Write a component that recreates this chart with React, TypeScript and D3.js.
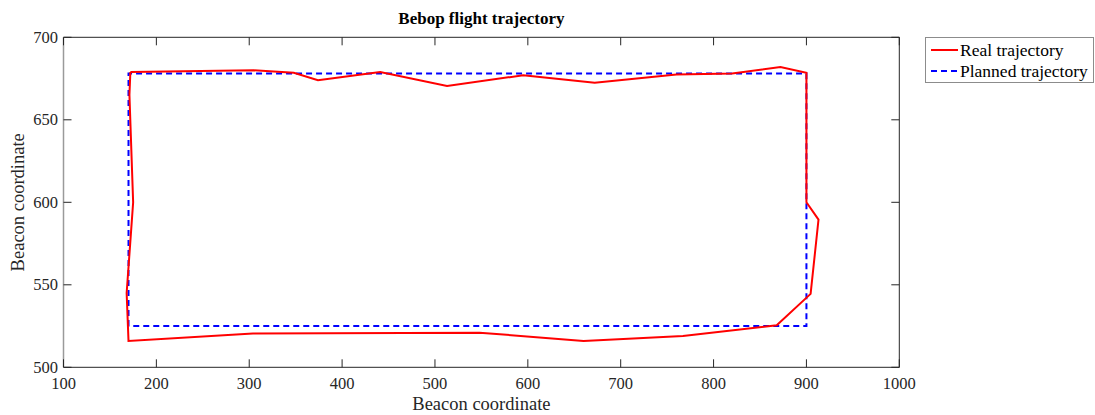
import React from "react";
import * as d3 from "d3";

const realX = [172, 305, 348, 374, 441, 513, 595, 672, 760, 820, 872, 900, 900, 913, 904.5, 868, 767, 660, 548, 304, 170, 168, 175, 171, 172];
const realY = [679, 680, 678.5, 674, 679, 670.5, 677, 672.5, 677.5, 678, 682, 678.5, 600, 589.5, 544.5, 525.5, 519, 516, 521, 520.5, 516, 545, 600, 665, 679];
const plannedX = [170, 170, 900, 900, 170];
const plannedY = [525, 678, 678, 525, 525];
const xTicks = [100, 200, 300, 400, 500, 600, 700, 800, 900, 1000];
const yTicks = [500, 550, 600, 650, 700];
const legendLabels = ["Real trajectory", "Planned trajectory"];

const W = 1095, H = 415;
const L = 63.5, R = 899.3, T = 37.3, B = 367.3;
const FONT = "'Liberation Serif', 'Times New Roman', serif";
const AX = "#262626";

export default function App() {
  const x = d3.scaleLinear().domain([100, 1000]).range([L, R]);
  const y = d3.scaleLinear().domain([500, 700]).range([B, T]);
  const line = d3.line<[number, number]>().x(d => x(d[0])).y(d => y(d[1]));
  const real = line(realX.map((v, i) => [v, realY[i]] as [number, number])) || "";
  const planned = line(plannedX.map((v, i) => [v, plannedY[i]] as [number, number])) || "";
  const tl = 8;
  return (
    <svg width={W} height={H} style={{ position: "absolute", left: 0, top: 0, background: "#fff" }} fontFamily={FONT}>
      <rect x={0} y={0} width={W} height={H} fill="#fff" />
      <text x={(L + R) / 2} y={24} textAnchor="middle" fontWeight="bold" fontSize={17} fill="#000">Bebop flight trajectory</text>
      <path d={planned} fill="none" stroke="#0000ff" strokeWidth={2} strokeDasharray="6,4" />
      <path d={real} fill="none" stroke="#ff0000" strokeWidth={2} strokeLinejoin="miter" />
      {/* axes box */}
      <line x1={L} x2={R} y1={T} y2={T} stroke={AX} strokeWidth={1} />
      <line x1={L} x2={R} y1={B} y2={B} stroke={AX} strokeWidth={1} />
      <line x1={R} x2={R} y1={T} y2={B} stroke={AX} strokeWidth={1} />
      <line x1={L} x2={L} y1={T} y2={B} stroke="#9a9a9a" strokeWidth={1.5} />
      {xTicks.map(t => (
        <g key={"x" + t}>
          <line x1={x(t)} x2={x(t)} y1={B} y2={B - tl} stroke={AX} />
          <line x1={x(t)} x2={x(t)} y1={T} y2={T + tl} stroke={AX} />
          <text x={x(t)} y={389} textAnchor="middle" fontSize={16.5} fill={AX}>{t}</text>
        </g>
      ))}
      {yTicks.map(t => (
        <g key={"y" + t}>
          <line x1={L} x2={L + tl} y1={y(t)} y2={y(t)} stroke={AX} />
          <line x1={R} x2={R - tl} y1={y(t)} y2={y(t)} stroke={AX} />
          <text x={58} y={y(t) + 5.5} textAnchor="end" fontSize={16.5} fill={AX}>{t}</text>
        </g>
      ))}
      <text x={(L + R) / 2} y={410} textAnchor="middle" fontSize={18.5} fill={AX}>Beacon coordinate</text>
      <text transform={`translate(24,${(T + B) / 2}) rotate(-90)`} textAnchor="middle" fontSize={18.5} fill={AX}>Beacon coordinate</text>
      {/* legend */}
      <rect x={925.5} y={37.5} width={168} height={45} fill="#fff" stroke="#8c8c8c" strokeWidth={1} />
      <line x1={931} x2={958} y1={50} y2={50} stroke="#ff0000" strokeWidth={2} />
      <line x1={931} x2={958} y1={71} y2={71} stroke="#0000ff" strokeWidth={2} strokeDasharray="6,4" />
      <text x={960} y={56} fontSize={17.5} fill="#000">{legendLabels[0]}</text>
      <text x={960} y={77} fontSize={17.5} fill="#000">{legendLabels[1]}</text>
    </svg>
  );
}
